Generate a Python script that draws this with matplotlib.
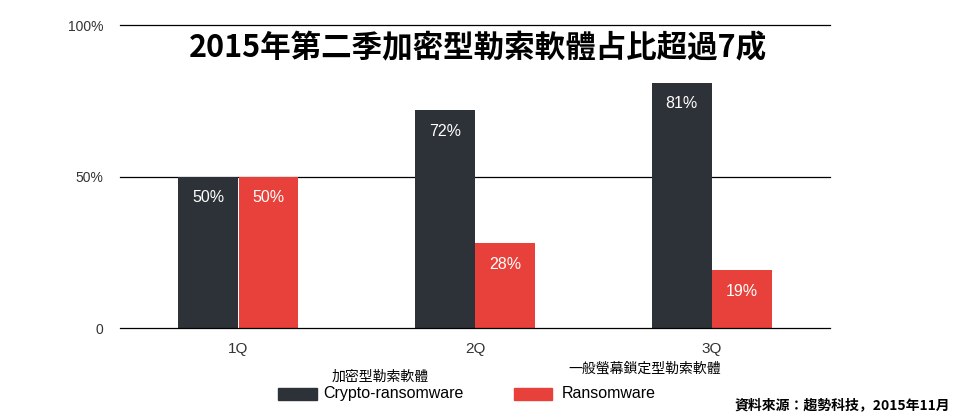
import matplotlib
matplotlib.use("Agg")
import matplotlib.pyplot as plt
import numpy as np

categories = ["1Q", "2Q", "3Q"]
crypto = [50, 72, 81]
ransom = [50, 28, 19]
yticks = [0, 50, 100]
ytick_labels = ["0", "50%", "100%"]

CJK = "Noto Sans CJK JP"
plt.rcParams["font.family"] = ["Liberation Sans", CJK]
dark = "#2d3238"
red = "#e8403a"

fig = plt.figure(figsize=(9.6, 4.2), dpi=100)
ax = fig.add_axes([0.125, 0.219, 0.74, 0.721])
x = np.arange(len(categories))
w = 0.253
b1 = ax.bar(x - 0.128, crypto, w, color=dark)
b2 = ax.bar(x + 0.127, ransom, w, color=red)
for bars, vals in ((b1, crypto), (b2, ransom)):
    for r, v in zip(bars, vals):
        ax.text(r.get_x() + r.get_width() / 2, v - 7, f"{v}%", ha="center", va="center",
                color="white", fontsize=11.5)
ax.set_xlim(-0.5, 2.5)
ax.set_ylim(0, 100)
ax.set_yticks(yticks)
ax.set_yticklabels(ytick_labels, fontsize=10, color="#333333")
ax.set_xticks(x)
ax.set_xticklabels(categories, fontsize=11, color="#333333")
for y in yticks:
    ax.axhline(y, color="black", lw=0.9, zorder=3 if y == 0 else 0, clip_on=False)
for s in ax.spines.values():
    s.set_visible(False)
ax.tick_params(length=0, pad=10)
ax.tick_params(axis="y", pad=12)

fig.text(0.498, 0.885, "2015年第二季加密型勒索軟體占比超過7成", ha="center", va="center",
         fontsize=22, fontweight="bold", fontfamily=CJK)
fig.patches.append(plt.Rectangle((0.29, 0.048), 0.04, 0.028, transform=fig.transFigure, color=dark))
fig.patches.append(plt.Rectangle((0.535, 0.048), 0.04, 0.028, transform=fig.transFigure, color=red))
fig.text(0.337, 0.062, "Crypto-ransomware", va="center", fontsize=11.5)
fig.text(0.585, 0.062, "Ransomware", va="center", fontsize=11.5)
fig.text(0.345, 0.102, "加密型勒索軟體", va="center", fontsize=10, fontfamily=CJK)
fig.text(0.592, 0.123, "一般螢幕鎖定型勒索軟體", va="center", fontsize=10, fontfamily=CJK)
fig.text(0.99, 0.035, "資料來源：趨勢科技，2015年11月", ha="right", va="center", fontsize=10,
         fontweight="bold", fontfamily=CJK)
fig.savefig("out.png", dpi=100)
